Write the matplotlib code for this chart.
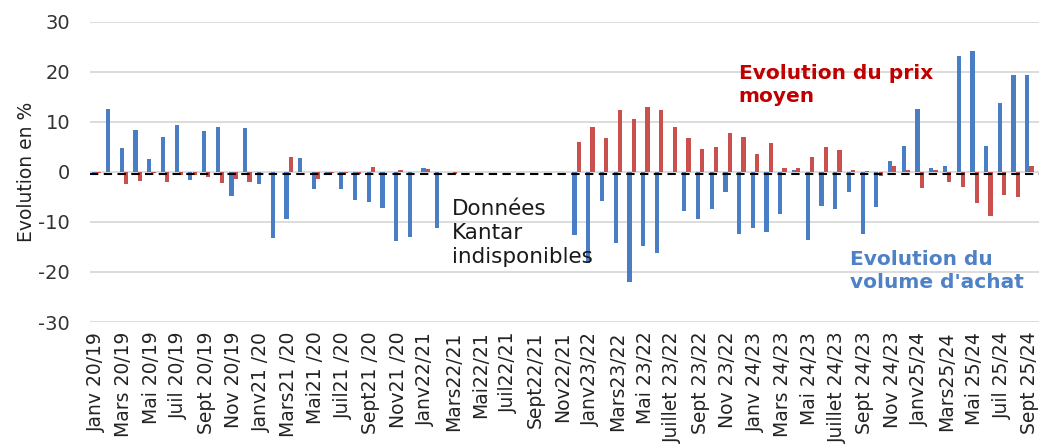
import numpy as np
import matplotlib
matplotlib.use("Agg")
import matplotlib.pyplot as plt

nan = np.nan

# monthly labels (every other month is shown on the axis)
tick_labels = [
    "Janv 20/19", "Mars 20/19", "Mai 20/19", "Juil 20/19", "Sept 20/19", "Nov 20/19",
    "Janv21 /20", "Mars21 /20", "Mai21 /20", "Juil21 /20", "Sept21 /20", "Nov21 /20",
    "Janv22/21", "Mars22/21", "Mai22/21", "Juil22/21", "Sept22/21", "Nov22/21",
    "Janv23/22", "Mars23/22", "Mai 23/22", "Juillet 23/22", "Sept 23/22", "Nov 23/22",
    "Janv 24/23", "Mars 24/23", "Mai 24/23", "Juillet 24/23", "Sept 24/23", "Nov 24/23",
    "Janv25/24", "Mars25/24", "Mai 25/24", "Juil 25/24", "Sept 25/24",
]

# evolution du volume d'achat (%), Jan 2020 -> Oct 2025
volume = [
    -0.5, 12.5, 4.8, 8.4, 2.6, 7.0, 9.4, -1.6, 8.2, 9.0, -4.8, 8.8,
    -2.4, -13.2, -9.4, 2.8, -3.4, -0.2, -3.4, -5.6, -6.0, -7.2, -13.8, -13.0,
    0.8, -11.2, nan, nan, nan, nan, nan, nan, nan, nan, nan, -12.6,
    -18.2, -5.8, -14.2, -22.0, -14.8, -16.2, nan, -7.8, -9.4, -7.4, -4.0, -12.4,
    -11.2, -12.0, -8.4, 0.3, -13.6, -6.8, -7.4, -4.0, -12.4, -7.0, 2.2, 5.2,
    12.6, 0.8, 1.2, 23.2, 24.2, 5.2, 13.8, 19.4, 19.4, 13.5,
]

# evolution du prix moyen (%)
prix = [
    -0.3, 0.0, -2.4, -1.8, -0.2, -2.0, -0.6, -0.7, -1.0, -2.2, -1.5, -2.0,
    0.0, 0.0, 3.0, 0.0, -1.4, -0.2, -0.3, -0.4, 1.0, 0.0, 0.3, 0.0,
    0.5, 0.0, -0.5, nan, nan, nan, nan, nan, nan, nan, nan, 6.0,
    9.0, 6.8, 12.4, 10.6, 13.0, 12.4, 9.0, 6.8, 4.6, 5.0, 7.8, 7.0,
    3.6, 5.8, 0.8, 0.8, 3.0, 5.0, 4.4, 0.3, 0.2, -0.8, 1.2, 0.3,
    -3.2, 0.4, -2.0, -3.0, -6.2, -8.8, -4.6, -5.0, 1.2, nan,
]

plt.rcParams['font.family'] = ['DejaVu Sans']
plt.rcParams['axes.unicode_minus'] = False

fig = plt.figure(figsize=(10.39, 4.46), dpi=100)
ax = fig.add_axes([89.6 / 1039, 124 / 446, 960.4 / 1039, 300 / 446])

x = np.arange(len(volume))
w = 0.31
ax.bar(x - w / 2, volume, width=w, color='#4A7EC4', zorder=2)
ax.bar(x + w / 2, prix, width=w, color='#C9504D', zorder=2)

ax.axhline(-0.35, color='black', lw=1.5, ls=(0, (4, 2.6)), zorder=3)

ax.set_xlim(-0.5, len(volume) - 0.5)
ax.set_ylim(-30, 30)
ax.set_yticks(np.arange(-30, 31, 10))
ax.yaxis.grid(True, color='#D9D9D9', lw=1.3)
ax.set_axisbelow(True)
for s in ax.spines.values():
    s.set_visible(False)

ax.set_xticks(x[::2])
ax.set_xticklabels(tick_labels, rotation=90, fontsize=13.5, color='#222222')
ax.tick_params(axis='x', length=0, pad=7)
ax.tick_params(axis='y', length=0, pad=14, labelsize=14, labelcolor='#333333')

fig.text(27 / 1039, 274 / 446, "Evolution en %", rotation=90, ha='center',
         va='center', fontsize=13.5, color='#222222')

ax.text(25.9, -5.4, "Données\nKantar\nindisponibles", ha='left', va='top',
        fontsize=15.5, color='#1a1a1a', linespacing=1.25)
ax.text(46.8, 21.6, "Evolution du prix\nmoyen", ha='left', va='top',
        fontsize=14.5, fontweight='bold', color='#C00000', linespacing=1.3)
ax.text(54.9, -15.6, "Evolution du\nvolume d'achat", ha='left', va='top',
        fontsize=14.5, fontweight='bold', color='#4F81C6', linespacing=1.3)

fig.savefig("out.png", dpi=100)
